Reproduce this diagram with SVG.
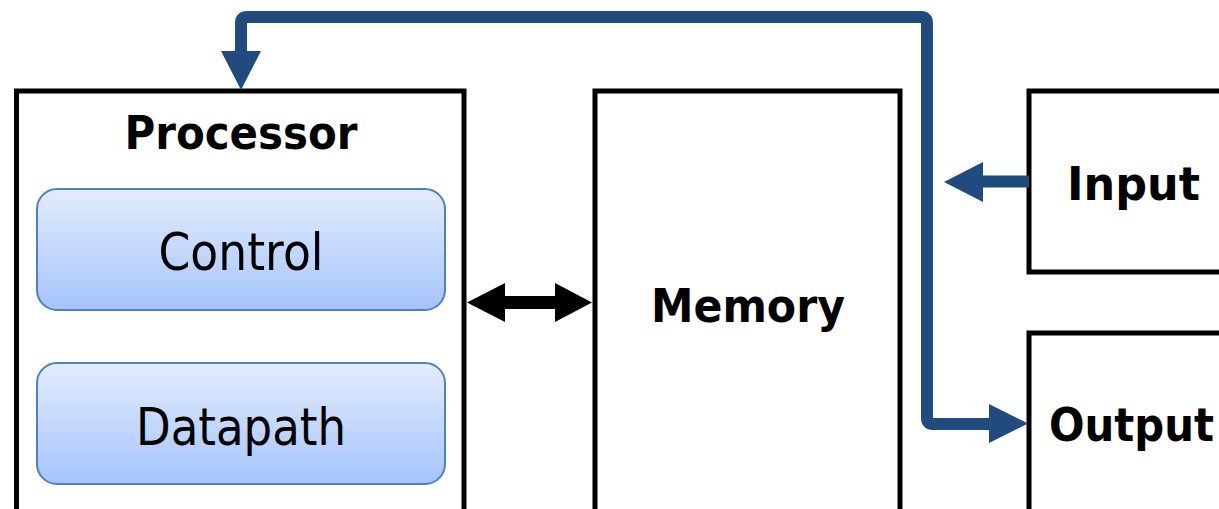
<svg xmlns="http://www.w3.org/2000/svg" width="1219" height="509" viewBox="0 0 1219 509">
  <style>
    .box { fill: #ffffff; stroke: #000000; stroke-width: 5; }
    .unit { fill: url(#unitFill); stroke: #5081bf; stroke-width: 2; }
    .title { font-family: "DejaVu Sans", "Liberation Sans", sans-serif; font-weight: bold; font-size: 46px; fill: #000000; }
    .label { font-family: "DejaVu Sans", "Liberation Sans", sans-serif; font-size: 51px; fill: #000000; }
    .bus { fill: none; stroke: #214a7e; stroke-width: 12; stroke-linejoin: round; }
    .busHead { fill: #214a7e; }
    .link { fill: none; stroke: #000000; stroke-width: 13; }
    .linkHead { fill: #000000; }
  </style>
  <defs>
    <linearGradient id="unitFill" x1="0" y1="0" x2="0" y2="1">
      <stop offset="0" stop-color="#e2ecfd"/>
      <stop offset="1" stop-color="#a6c4fb"/>
    </linearGradient>
  </defs>

  <g id="processor">
    <rect class="box" x="16.5" y="91" width="447.5" height="480"/>
    <text class="title" x="241" y="149" text-anchor="middle" textLength="233" lengthAdjust="spacingAndGlyphs">Processor</text>
  </g>

  <g id="control">
    <rect class="unit" x="37" y="189" width="408" height="121" rx="20" ry="20"/>
    <text class="label" x="241" y="270" text-anchor="middle" textLength="165" lengthAdjust="spacingAndGlyphs">Control</text>
  </g>

  <g id="datapath">
    <rect class="unit" x="37" y="363" width="408" height="121" rx="20" ry="20"/>
    <text class="label" x="241" y="445" text-anchor="middle" textLength="210" lengthAdjust="spacingAndGlyphs">Datapath</text>
  </g>

  <g id="memory">
    <rect class="box" x="595" y="91" width="305" height="480"/>
    <text class="title" x="748" y="322" text-anchor="middle" textLength="194" lengthAdjust="spacingAndGlyphs">Memory</text>
  </g>

  <g id="input">
    <rect class="box" x="1029" y="91" width="300" height="181"/>
    <text class="title" x="1067" y="200" textLength="133" lengthAdjust="spacingAndGlyphs">Input</text>
  </g>

  <g id="output">
    <rect class="box" x="1029" y="333" width="300" height="300"/>
    <text class="title" x="1049" y="441" textLength="165" lengthAdjust="spacingAndGlyphs">Output</text>
  </g>

  <g id="connectors">
    <!-- shared bus: loops over the top into the processor and down to output -->
    <path class="bus" d="M241,52 V23 Q241,17 247,17 H921 Q927,17 927,23 V418 Q927,424 933,424 H990"/>
    <polygon class="busHead" points="221,51 261,51 241,90"/>
    <polygon class="busHead" points="989,404 989,443 1028,423.5"/>
    <!-- input feeding the bus -->
    <line class="bus" x1="1029" y1="181.5" x2="982" y2="181.5" stroke-linecap="butt"/>
    <polygon class="busHead" points="983,162 983,202 944,182"/>
    <!-- processor <-> memory -->
    <line class="link" x1="504" y1="302.5" x2="556" y2="302.5"/>
    <polygon class="linkHead" points="505,283 505,322 467,302.5"/>
    <polygon class="linkHead" points="555,283 555,322 592,302.5"/>
  </g>
</svg>
